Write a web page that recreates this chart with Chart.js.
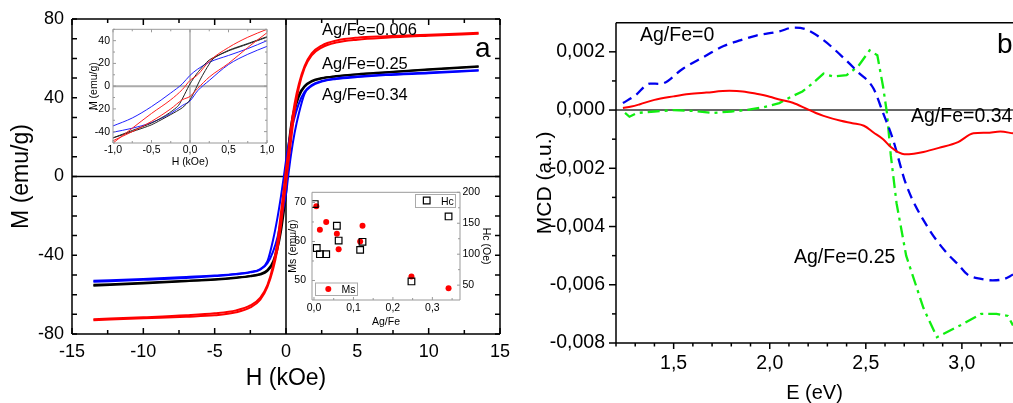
<!DOCTYPE html>
<html>
<head>
<meta charset="utf-8">
<title>M(H) loops and MCD spectra</title>
<script src="https://cdn.jsdelivr.net/npm/chart.js@4.4.1/dist/chart.umd.min.js"></script>
<style>
  html, body { margin: 0; padding: 0; background: #fff; }
  #wrap { position: relative; width: 1013px; height: 403px; overflow: hidden; }
  canvas { position: absolute; }
</style>
</head>
<body>
<div id="wrap">
  <canvas id="main" width="530" height="403" style="left:0;top:0"></canvas>
  <canvas id="loops" width="199" height="152" style="left:80px;top:20px"></canvas>
  <canvas id="msHc" width="210" height="150" style="left:285px;top:180px"></canvas>
  <canvas id="mcd" width="493" height="403" style="left:520px;top:0"></canvas>
</div>
<script>
// ---- panel a: M(H), upper branch (field going down) and lower branch (field going up)
const hMain     = [-13.5, -10, -7, -5, -3.5, -2.5, -1.8, -1.3, -0.9, -0.6, -0.35, -0.15, 0, 0.15, 0.35, 0.6, 0.9, 1.3, 1.8, 2.5, 3.5, 5, 7, 10, 13.5];
const mRedUp    = [-72.5, -71.5, -70.5, -69.5, -68, -65.5, -61.5, -55, -45, -33, -18, -6, 4, 12, 25, 37, 47, 56, 62.5, 66.5, 69, 70.5, 71.2, 72, 73];
const mRedLow   = [-73, -72, -71.2, -70.5, -69, -66.5, -62.5, -56, -47, -37, -25, -12, -4, 6, 18, 33, 45, 55, 61.5, 65.5, 68, 69.5, 70.5, 71.5, 72.5];
const mBlackUp  = [-55, -54, -53, -52.2, -51.3, -50.5, -49.5, -47.5, -43, -35, -24, -12, 3, 14, 26, 35, 41.5, 46, 48.5, 50, 51, 52, 53, 54.5, 56];
const mBlackLow = [-55.5, -54.3, -53.2, -52.4, -51.5, -50.7, -49.8, -48, -44, -37, -28, -18, -9, 6, 22, 33, 40.5, 45.5, 48.2, 49.8, 50.8, 51.8, 52.8, 54.2, 55.8];
const mBlueUp   = [-53, -52, -51, -50.3, -49.5, -48.5, -47, -43, -32, -21, -10, 0, 8, 15, 23, 30, 37, 43, 46.5, 48.5, 49.8, 50.8, 51.8, 52.8, 54];
const mBlueLow  = [-53.5, -52.5, -51.5, -50.6, -49.7, -48.7, -47.3, -44, -38, -31, -22, -15, -9, 0, 11, 22, 32, 42, 46, 48.2, 49.5, 50.5, 51.5, 52.5, 53.8];
const mainHTicks = [-15, -10, -5, 0, 5, 10, 15];
const mainMTicks = [-80, -40, 0, 40, 80];

// ---- inset: low field part of the loops
const hLoop       = [-1, -0.75, -0.5, -0.25, -0.1, 0, 0.1, 0.25, 0.5, 0.75, 1];
const loopBlueUp  = [-35, -28, -18, -6, 2, 9.5, 15, 21, 27, 33, 40];
const loopBlueLow = [-40.5, -37, -32, -24, -17, -13, -4, 5, 19, 28, 35];
const loopRedUp   = [-50, -37, -24, -12, -3, 5, 10, 22, 34, 43, 50];
const loopRedLow  = [-48, -40, -31, -20, -12, -9, -2, 8, 20, 34, 47];
const hBlackUp    = [-1, -0.75, -0.5, -0.3, -0.15, 0, 0.1, 0.25, 0.5, 0.75, 1];
const loopBlackUp = [-45.5, -39, -32.5, -25, -17, 2, 12, 23, 31, 37, 43];
const hBlackLow   = [-1, -0.75, -0.5, -0.25, -0.1, 0, 0.15, 0.3, 0.5, 0.75, 1];
const loopBlackLow= [-45.5, -40, -34, -25, -19, -12, 8, 24, 31.5, 37.5, 43.5];
const loopHTicks = [-1, -0.5, 0, 0.5, 1];
const loopMTicks = [-40, -20, 0, 20, 40];

// ---- inset: Ms and Hc vs Ag/Fe
const agFeHc = [0.002, 0.007, 0.015, 0.031, 0.058, 0.0625, 0.117, 0.123, 0.247, 0.341];
const hc     = [181, 110, 100, 100, 146, 122, 107, 120, 56, 161];
const agFeMs = [0.006, 0.015, 0.031, 0.058, 0.0625, 0.117, 0.123, 0.247, 0.341];
const ms     = [69, 63, 65, 62, 58, 60, 64, 51, 48];
const agFeTicks = [0, 0.1, 0.2, 0.3];
const msTicks = [50, 60, 70];
const hcTicks = [50, 100, 150, 200];

// ---- panel b: MCD spectra
const eBlue   = [1.236, 1.30, 1.377, 1.43, 1.55, 1.65, 1.76, 1.85, 1.93, 2.05, 2.12, 2.19, 2.28, 2.37, 2.46, 2.54, 2.59, 2.64, 2.71, 2.82, 2.92, 2.98, 3.03, 3.10, 3.16, 3.22, 3.266];
const mcdBlue = [0.00024, 0.0005, 0.00091, 0.0009, 0.00143, 0.0018, 0.0022, 0.0024, 0.00256, 0.0027, 0.00283, 0.00277, 0.0024, 0.00188, 0.0013, 0.00074, -0.0001, -0.00098, -0.00256, -0.004, -0.0049, -0.0053, -0.00565, -0.0058, -0.00585, -0.0058, -0.00565];
const eGreen   = [1.247, 1.27, 1.31, 1.40, 1.50, 1.60, 1.70, 1.80, 1.88, 1.97, 2.05, 2.11, 2.17, 2.22, 2.28, 2.33, 2.40, 2.46, 2.52, 2.56, 2.59, 2.61, 2.63, 2.66, 2.71, 2.76, 2.80, 2.87, 2.99, 3.10, 3.18, 3.24, 3.266];
const mcdGreen = [-0.0001, -0.00023, -0.0001, -0.00005, 0.0, -0.00003, -0.0001, -0.00005, 0.0, 0.0001, 0.00024, 0.00045, 0.00064, 0.0009, 0.00125, 0.00115, 0.0012, 0.0015, 0.00205, 0.00188, 0.0008, -0.0001, -0.00155, -0.0032, -0.005, -0.006, -0.0068, -0.0078, -0.0074, -0.007, -0.007, -0.00707, -0.0074];
const eRed   = [1.236, 1.28, 1.325, 1.40, 1.50, 1.58, 1.67, 1.79, 1.86, 1.93, 2.00, 2.05, 2.12, 2.19, 2.24, 2.28, 2.37, 2.43, 2.49, 2.54, 2.59, 2.63, 2.67, 2.70, 2.75, 2.80, 2.88, 2.98, 3.06, 3.13, 3.20, 3.266];
const mcdRed = [0.00007, 0.00012, 0.0002, 0.00035, 0.00047, 0.00055, 0.0006, 0.00066, 0.00064, 0.00056, 0.00046, 0.00036, 0.00025, 0.00005, -0.0001, -0.0002, -0.00037, -0.00045, -0.00054, -0.00077, -0.001, -0.00127, -0.00145, -0.00152, -0.0015, -0.00144, -0.0013, -0.0011, -0.0008, -0.00078, -0.00074, -0.0008];
const eTicks = [1.5, 2.0, 2.5, 3.0];
const mcdTicks = [-0.008, -0.006, -0.004, -0.002, 0, 0.002];

const FONT = "Arial, 'Liberation Sans', sans-serif";

function pts(xs, ys) {
    return xs.map((x, i) => ({ x: x, y: ys[i] }));
}

// frame, zero lines and inward/outward ticks drawn with the chart's scales
const framePlugin = {
    id: 'frame',
    beforeDatasetsDraw(chart, args, opts) {
        const { ctx, chartArea: a, scales } = chart;
        ctx.save();
        (opts.zero || []).forEach(z => {
            const s = scales[z.axis];
            const p = s.getPixelForValue(0);
            ctx.strokeStyle = z.color;
            ctx.lineWidth = z.width;
            ctx.beginPath();
            if (s.isHorizontal()) { ctx.moveTo(p, a.top); ctx.lineTo(p, a.bottom); }
            else { ctx.moveTo(a.left, p); ctx.lineTo(a.right, p); }
            ctx.stroke();
        });
        ctx.restore();
    },
    afterDatasetsDraw(chart, args, opts) {
        const { ctx, chartArea: a, scales } = chart;
        ctx.save();
        ctx.strokeStyle = opts.color;
        ctx.lineWidth = opts.width;
        (opts.ticks || []).forEach(t => {
            const s = scales[t.axis];
            const n = Math.round((t.to - t.from) / t.step);
            for (let i = 0; i <= n; i++) {
                const v = t.from + i * t.step;
                const p = s.getPixelForValue(v);
                const r = v / t.major;
                const len = Math.abs(r - Math.round(r)) < 1e-6 ? t.len : t.minorLen;
                const d = t.inside ? len : -len;
                ctx.beginPath();
                t.sides.forEach(side => {
                    if (side === 'bottom') { ctx.moveTo(p, a.bottom); ctx.lineTo(p, a.bottom - d); }
                    if (side === 'top') { ctx.moveTo(p, a.top); ctx.lineTo(p, a.top + d); }
                    if (side === 'left') { ctx.moveTo(a.left, p); ctx.lineTo(a.left + d, p); }
                    if (side === 'right') { ctx.moveTo(a.right, p); ctx.lineTo(a.right - d, p); }
                });
                ctx.stroke();
            }
        });
        ctx.beginPath();
        (opts.sides || []).forEach(side => {
            if (side === 'left') { ctx.moveTo(a.left, a.top); ctx.lineTo(a.left, a.bottom); }
            if (side === 'right') { ctx.moveTo(a.right, a.top); ctx.lineTo(a.right, a.bottom); }
            if (side === 'top') { ctx.moveTo(a.left, a.top); ctx.lineTo(a.right, a.top); }
            if (side === 'bottom') { ctx.moveTo(a.left, a.bottom); ctx.lineTo(a.right, a.bottom); }
        });
        ctx.stroke();
        ctx.restore();
    }
};

// free text labels and small legend boxes
const notesPlugin = {
    id: 'notes',
    afterDraw(chart, args, opts) {
        const ctx = chart.ctx;
        ctx.save();
        (opts.boxes || []).forEach(b => {
            ctx.strokeStyle = b.color;
            ctx.lineWidth = 1;
            ctx.strokeRect(b.x + 0.5, b.y + 0.5, b.w, b.h);
        });
        (opts.marks || []).forEach(m => {
            ctx.strokeStyle = m.stroke;
            ctx.fillStyle = m.fill;
            ctx.lineWidth = m.lineWidth || 1;
            Chart.helpers.drawPoint(ctx, { pointStyle: m.style, radius: m.radius, borderWidth: m.lineWidth || 1 }, m.x, m.y);
        });
        (opts.texts || []).forEach(t => {
            ctx.font = t.font;
            ctx.fillStyle = '#000';
            ctx.textAlign = 'left';
            ctx.textBaseline = 'alphabetic';
            ctx.fillText(t.text, t.x, t.y);
        });
        ctx.restore();
    }
};

function axis(opts) {
    return {
        type: 'linear',
        min: opts.min,
        max: opts.max,
        position: opts.position,
        afterBuildTicks: s => { s.ticks = opts.ticks.map(v => ({ value: v })); },
        afterFit: s => { if (opts.width !== undefined) s.width = opts.width; if (opts.height !== undefined) s.height = opts.height; },
        grid: { display: false, drawTicks: false },
        border: { display: false },
        ticks: {
            padding: opts.pad,
            color: '#000',
            autoSkip: false,
            maxRotation: 0,
            font: { size: opts.size, family: FONT },
            callback: opts.fmt
        },
        title: {
            display: true,
            text: opts.title,
            color: '#000',
            font: { size: opts.titleSize, family: FONT, lineHeight: 1 },
            padding: { top: opts.titlePad, bottom: opts.titlePad }
        }
    };
}

const base = {
    responsive: false,
    animation: false,
    devicePixelRatio: 1,
    events: [],
    elements: { point: { radius: 0 } }
};

function line(data, color, width, extra) {
    return Object.assign({
        data: data,
        borderColor: color,
        borderWidth: width,
        pointRadius: 0,
        fill: false,
        cubicInterpolationMode: 'monotone'
    }, extra || {});
}

// ---------------- panel a ----------------
new Chart(document.getElementById('main'), {
    type: 'line',
    data: {
        datasets: [
            line(pts(hMain, mRedUp), '#ff0000', 2),
            line(pts(hMain, mRedLow), '#ff0000', 2),
            line(pts(hMain, mBlueUp), '#0000ff', 2),
            line(pts(hMain, mBlueLow), '#0000ff', 2),
            line(pts(hMain, mBlackUp), '#000000', 2),
            line(pts(hMain, mBlackLow), '#000000', 2)
        ]
    },
    options: Object.assign({}, base, {
        layout: { padding: { top: 19, right: 30, left: 0, bottom: 0 } },
        scales: {
            x: axis({ min: -15, max: 15, ticks: mainHTicks, height: 69, pad: 7, size: 18,
                      fmt: v => String(v), title: 'H (kOe)', titleSize: 23, titlePad: 13 }),
            y: axis({ min: -80, max: 80, ticks: mainMTicks, width: 72, pad: 8, size: 18,
                      fmt: v => String(v), title: 'M (emu/g)', titleSize: 23, titlePad: 10 })
        },
        plugins: {
            legend: { display: false },
            tooltip: { enabled: false },
            frame: {
                color: '#000', width: 1.5,
                sides: ['left', 'right', 'top', 'bottom'],
                zero: [{ axis: 'x', color: '#000', width: 1.5 }, { axis: 'y', color: '#000', width: 1.5 }],
                ticks: [
                    { axis: 'x', from: -15, to: 15, step: 2.5, major: 5, len: 6, minorLen: 4, sides: ['bottom', 'top'], inside: true },
                    { axis: 'y', from: -80, to: 80, step: 10, major: 20, len: 5, minorLen: 5, sides: ['left', 'right'], inside: true }
                ]
            },
            notes: {
                texts: [
                    { text: 'Ag/Fe=0.006', x: 322, y: 35, font: '16.5px ' + FONT },
                    { text: 'Ag/Fe=0.25', x: 322, y: 69, font: '16.5px ' + FONT },
                    { text: 'Ag/Fe=0.34', x: 322, y: 99.5, font: '16.5px ' + FONT },
                    { text: 'a', x: 475, y: 56.5, font: '28px ' + FONT }
                ]
            }
        }
    }),
    plugins: [framePlugin, notesPlugin]
});

// ---------------- inset: low-field loops ----------------
new Chart(document.getElementById('loops'), {
    type: 'line',
    data: {
        datasets: [
            line(pts(hLoop, loopRedUp), '#ff2020', 1),
            line(pts(hLoop, loopRedLow), '#ff2020', 1),
            line(pts(hBlackUp, loopBlackUp), '#222', 1, { cubicInterpolationMode: 'default', tension: 0.2 }),
            line(pts(hBlackLow, loopBlackLow), '#222', 1, { cubicInterpolationMode: 'default', tension: 0.2 }),
            line(pts(hLoop, loopBlueUp), '#2020ff', 1),
            line(pts(hLoop, loopBlueLow), '#2020ff', 1)
        ]
    },
    options: Object.assign({}, base, {
        layout: { padding: { top: 8, right: 12, left: 0, bottom: 0 } },
        scales: {
            x: axis({ min: -1, max: 1, ticks: loopHTicks, height: 29, pad: 1, size: 10.5,
                      fmt: v => v.toFixed(1).replace('.', ','), title: 'H (kOe)', titleSize: 10.5, titlePad: 4.5 }),
            y: axis({ min: -50, max: 50, ticks: loopMTicks, width: 33, pad: 3, size: 10.5,
                      fmt: v => String(v), title: 'M (emu/g)', titleSize: 10.5, titlePad: 8.5 })
        },
        plugins: {
            legend: { display: false },
            tooltip: { enabled: false },
            frame: {
                color: '#999', width: 1,
                sides: ['left', 'right', 'top', 'bottom'],
                zero: [{ axis: 'x', color: '#999', width: 1.2 }, { axis: 'y', color: '#aaa', width: 2 }],
                ticks: [
                    { axis: 'x', from: -1, to: 1, step: 0.25, major: 0.5, len: 3, minorLen: 2, sides: ['bottom', 'top'], inside: true },
                    { axis: 'y', from: -50, to: 50, step: 10, major: 20, len: 3, minorLen: 2, sides: ['left', 'right'], inside: true }
                ]
            }
        }
    }),
    plugins: [framePlugin]
});

// ---------------- inset: Ms and Hc vs Ag/Fe ----------------
const msAxis = axis({ min: 45, max: 72.6, ticks: msTicks, width: 27, pad: 6, size: 10.5,
                      fmt: v => String(v), title: 'Ms (emu/g)', titleSize: 10.5, titlePad: 2.5, position: 'left' });
const hcAxis = axis({ min: 26, max: 200, ticks: hcTicks, width: 35, pad: 2.5, size: 10.5,
                      fmt: v => String(v), title: 'Hc (Oe)', titleSize: 10.5, titlePad: 4, position: 'right' });
new Chart(document.getElementById('msHc'), {
    type: 'scatter',
    data: {
        datasets: [
            { label: 'Hc', yAxisID: 'y1', data: pts(agFeHc, hc), pointStyle: 'rect', pointRadius: 4.7,
              borderColor: '#000', backgroundColor: 'rgba(255,255,255,0)', borderWidth: 1.2 },
            { label: 'Ms', yAxisID: 'y', data: pts(agFeMs, ms), pointStyle: 'circle', pointRadius: 3,
              borderColor: '#ff0000', backgroundColor: '#ff0000', borderWidth: 0 }
        ]
    },
    options: Object.assign({}, base, {
        elements: {},
        layout: { padding: { top: 7, right: 0, left: 0, bottom: 0 } },
        scales: {
            x: axis({ min: -0.005, max: 0.37, ticks: agFeTicks, height: 30, pad: 1.5, size: 10.5,
                      fmt: v => v.toFixed(1).replace('.', ','), title: 'Ag/Fe', titleSize: 10.5, titlePad: 2.5 }),
            y: msAxis,
            y1: hcAxis
        },
        plugins: {
            legend: { display: false },
            tooltip: { enabled: false },
            frame: {
                color: '#999', width: 1,
                sides: ['left', 'right', 'top', 'bottom'],
                ticks: [
                    { axis: 'x', from: 0, to: 0.35, step: 0.05, major: 0.1, len: 3, minorLen: 2, sides: ['bottom'], inside: true },
                    { axis: 'y', from: 50, to: 70, step: 5, major: 10, len: 3, minorLen: 2, sides: ['left'], inside: true },
                    { axis: 'y1', from: 50, to: 200, step: 25, major: 50, len: 3, minorLen: 2, sides: ['right'], inside: true }
                ]
            },
            notes: {
                boxes: [
                    { x: 130, y: 14, w: 40, h: 13, color: '#aaa' },
                    { x: 30, y: 102.5, w: 42, h: 12.5, color: '#aaa' }
                ],
                marks: [
                    { style: 'rect', radius: 4.7, x: 141.7, y: 20.5, stroke: '#000', fill: 'rgba(255,255,255,0)', lineWidth: 1.2 },
                    { style: 'circle', radius: 3, x: 43.3, y: 109, stroke: '#ff0000', fill: '#ff0000', lineWidth: 0.01 }
                ],
                texts: [
                    { text: 'Hc', x: 156, y: 24.5, font: '10.5px ' + FONT },
                    { text: 'Ms', x: 56.5, y: 113, font: '10.5px ' + FONT }
                ]
            }
        }
    }),
    plugins: [framePlugin, notesPlugin]
});

// ---------------- panel b ----------------
new Chart(document.getElementById('mcd'), {
    type: 'line',
    data: {
        datasets: [
            line(pts(eRed, mcdRed), '#ff0000', 2),
            line(pts(eBlue, mcdBlue), '#0000ee', 2.3, { borderDash: [10, 6] }),
            line(pts(eGreen, mcdGreen), '#11ee11', 2.3, { borderDash: [12, 5, 3, 5], cubicInterpolationMode: 'default', tension: 0 })
        ]
    },
    options: Object.assign({}, base, {
        layout: { padding: { top: 16, right: 0, left: 0, bottom: 0 } },
        scales: {
            x: axis({ min: 1.2, max: 3.266, ticks: eTicks, height: 60, pad: 9, size: 19.5,
                      fmt: v => v.toFixed(1).replace('.', ','), title: 'E (eV)', titleSize: 20, titlePad: 0 }),
            y: axis({ min: -0.008, max: 0.003, ticks: mcdTicks, width: 96, pad: 11, size: 19.5,
                      fmt: v => v.toFixed(3).replace('.', ','), title: 'MCD (a.u.)', titleSize: 21, titlePad: 15 })
        },
        plugins: {
            legend: { display: false },
            tooltip: { enabled: false },
            frame: {
                color: '#000', width: 1.5,
                sides: ['left', 'top', 'bottom'],
                zero: [{ axis: 'y', color: '#333', width: 1.5 }],
                ticks: [
                    { axis: 'x', from: 1.2, to: 3.2, step: 0.1, major: 0.5, len: 6, minorLen: 3.5, sides: ['bottom'], inside: false },
                    { axis: 'y', from: -0.008, to: 0.002, step: 0.001, major: 0.002, len: 7, minorLen: 4, sides: ['left'], inside: false }
                ]
            },
            notes: {
                texts: [
                    { text: 'Ag/Fe=0', x: 120, y: 41, font: '19.5px ' + FONT },
                    { text: 'b', x: 477, y: 53, font: '28px ' + FONT },
                    { text: 'Ag/Fe=0.34', x: 391, y: 122, font: '19.5px ' + FONT },
                    { text: 'Ag/Fe=0.25', x: 274, y: 263, font: '19.5px ' + FONT }
                ]
            }
        }
    }),
    plugins: [framePlugin, notesPlugin]
});
</script>
</body>
</html>
